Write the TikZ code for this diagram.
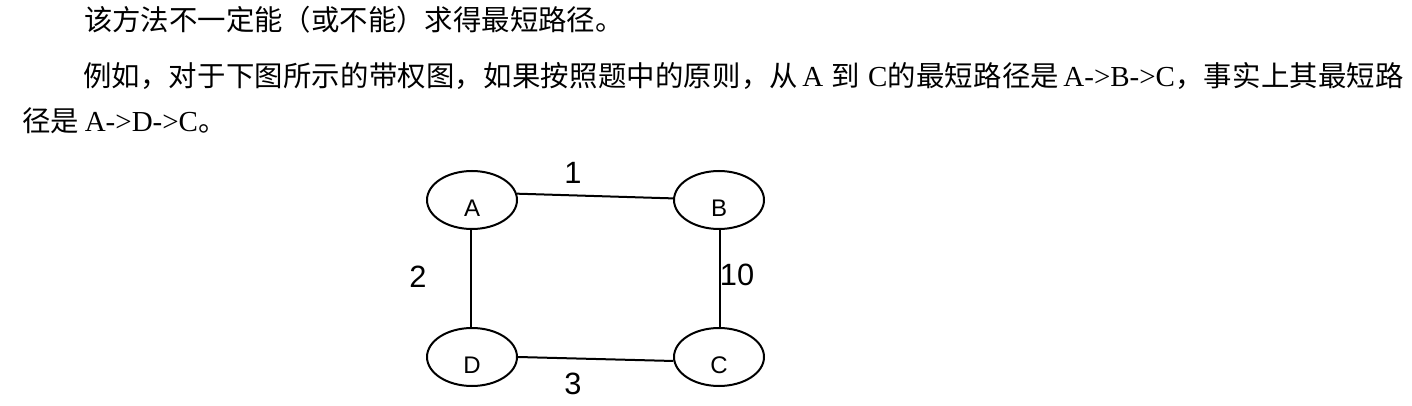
\documentclass[tikz,border=0pt]{standalone}
\usepackage{fontspec}
\setmainfont{Liberation Serif}
\newfontfamily\cjk{Noto Sans CJK SC}
\newfontfamily\sansf{Liberation Sans}
\newcommand\zhs[1]{{\cjk\fontsize{14.2pt}{16pt}\selectfont #1}}
\usetikzlibrary{shapes.geometric}
\begin{document}
\begin{tikzpicture}[x=0.5pt,y=-0.5pt,
  txt/.style={anchor=base west,inner sep=0pt,outer sep=0pt,font=\fontsize{14.5pt}{16pt}\selectfont},
  ell/.style={ellipse,draw,line width=1pt,minimum width=45pt,minimum height=29pt,inner sep=0pt},
  nlbl/.style={font=\sansf\fontsize{12pt}{13pt}\selectfont,yshift=-4pt,inner sep=0pt},
  wt/.style={font=\sansf\fontsize{15.4pt}{17pt}\selectfont,inner sep=0pt},
  edgeln/.style={line width=1pt}]
\useasboundingbox[fill=white] (0,0) rectangle (1412,406);
% text
\node[txt] (l1) at (84,31) {\zhs{该方法不一定能（或不能）求得最短路径。}};
\node[txt] (l2) at (83,87) {\hbox to 660.5pt{\zhs{例\hfil 如\hfil ，\hfil 对\hfil 于\hfil 下\hfil 图\hfil 所\hfil 示\hfil 的\hfil 带\hfil 权\hfil 图\hfil ，\hfil 如\hfil 果\hfil 按\hfil 照\hfil 题\hfil 中\hfil 的\hfil 原\hfil 则\hfil ，\hfil 从}\hspace{2pt}\hfil A\hspace{4pt}\hfil\zhs{到}\hspace{4pt}\hfil C\hfil\zhs{的\hfil 最\hfil 短\hfil 路\hfil 径\hfil 是}\hspace{2pt}\hfil A->B->C\hfil\zhs{，\hfil 事\hfil 实\hfil 上\hfil 其\hfil 最\hfil 短\hfil 路}}};
\node[txt] (l3) at (22,132) {\zhs{径是}\hspace{3pt}A->D->C\zhs{。}};
% graph
\node[ell,label={[nlbl]center:A}] (A) at (472,200) {};
\node[ell,label={[nlbl]center:B}] (B) at (719,200) {};
\node[ell,label={[nlbl]center:D}] (D) at (472,357) {};
\node[ell,label={[nlbl]center:C}] (C) at (719,357) {};
\draw[edgeln] (A.8) -- (B.178);
\draw[edgeln] (D.0) -- (C.185);
\draw[edgeln] (A.268) -- (D.92);
\draw[edgeln] (B.272) -- (C.88);
\node[wt] (w1) at (573,173) {1};
\node[wt] (w2) at (418,277) {2};
\node[wt] (w10) at (737,275) {10};
\node[wt] (w3) at (573,384) {3};
\end{tikzpicture}
\end{document}
